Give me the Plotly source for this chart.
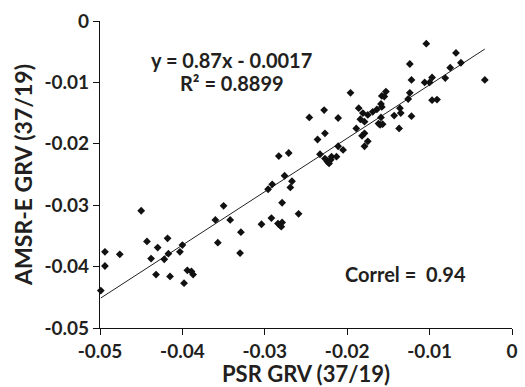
import plotly.graph_objects as go

psr_grv = [
    -0.0499, -0.0494, -0.0494, -0.0476, -0.0450, -0.0443, -0.0438, -0.0432, -0.0430, -0.0422,
    -0.0418, -0.0417, -0.0415, -0.0403, -0.0400, -0.0398, -0.0394, -0.0389, -0.0387, -0.0360,
    -0.0357, -0.0350, -0.0342, -0.0329, -0.0330, -0.0304, -0.0296, -0.0292, -0.0291, -0.0284,
    -0.0282, -0.0280, -0.0279, -0.0279, -0.0276, -0.0269, -0.0267, -0.0259, -0.0283, -0.0271,
    -0.0246, -0.0236, -0.0233, -0.0228, -0.0227, -0.0227, -0.0224, -0.0222, -0.0220, -0.0219,
    -0.0213, -0.0211, -0.0211, -0.0205, -0.0196, -0.0189, -0.0186, -0.0184, -0.0182, -0.0181,
    -0.0179, -0.0179, -0.0179, -0.0175, -0.0175, -0.0169, -0.0164, -0.0162, -0.0160, -0.0159,
    -0.0159, -0.0158, -0.0158, -0.0157, -0.0155, -0.0153, -0.0143, -0.0137, -0.0136, -0.0135,
    -0.0126, -0.0124, -0.0124, -0.0122, -0.0122, -0.0106, -0.0104, -0.0100, -0.0097, -0.0097,
    -0.0091, -0.0081, -0.0075, -0.0068, -0.0062, -0.0033,
]
amsre_grv = [
    -0.0439, -0.0376, -0.0399, -0.0380, -0.0309, -0.0359, -0.0387, -0.0413, -0.0369, -0.0388,
    -0.0354, -0.0379, -0.0416, -0.0376, -0.0365, -0.0427, -0.0406, -0.0408, -0.0413, -0.0324,
    -0.0361, -0.0301, -0.0324, -0.0344, -0.0378, -0.0331, -0.0274, -0.0321, -0.0266, -0.0330,
    -0.0332, -0.0335, -0.0328, -0.0296, -0.0252, -0.0271, -0.0261, -0.0314, -0.0220, -0.0215,
    -0.0157, -0.0193, -0.0217, -0.0145, -0.0183, -0.0224, -0.0229, -0.0232, -0.0226, -0.0221,
    -0.0221, -0.0204, -0.0158, -0.0210, -0.0117, -0.0175, -0.0142, -0.0160, -0.0187, -0.0150,
    -0.0183, -0.0204, -0.0164, -0.0153, -0.0196, -0.0148, -0.0144, -0.0167, -0.0169, -0.0157,
    -0.0135, -0.0140, -0.0122, -0.0168, -0.0123, -0.0115, -0.0154, -0.0175, -0.0142, -0.0150,
    -0.0127, -0.0117, -0.0070, -0.0155, -0.0096, -0.0100, -0.0037, -0.0100, -0.0092, -0.0129,
    -0.0128, -0.0093, -0.0076, -0.0052, -0.0068, -0.0096,
]

slope = 0.87
intercept = -0.0017
tick_vals = [-0.05, -0.04, -0.03, -0.02, -0.01, 0]
tick_text = ["-0.05", "-0.04", "-0.03", "-0.02", "-0.01", "0"]

x_fit = [min(psr_grv), max(psr_grv)]
y_fit = [slope * v + intercept for v in x_fit]

FONT = "Lato"
TXT = "#231f20"

fig = go.Figure()
fig.add_trace(go.Scatter(x=x_fit, y=y_fit, mode="lines",
                         line=dict(color="#222222", width=1), hoverinfo="skip"))
fig.add_trace(go.Scatter(x=psr_grv, y=amsre_grv, mode="markers",
                         marker=dict(symbol="diamond", size=6, color="#111111"),
                         cliponaxis=False))

axis_common = dict(
    range=[-0.05, 0], tickvals=tick_vals, ticktext=tick_text,
    showline=True, linecolor="#111111", linewidth=1.3,
    ticks="outside", ticklen=6, tickcolor="#111111", tickwidth=1,
    showgrid=False, zeroline=False,
    tickfont=dict(family=FONT, size=19, color=TXT, weight="bold"),
)

fig.update_layout(
    width=525, height=387,
    margin=dict(l=100, r=7, t=21, b=59),
    paper_bgcolor="white", plot_bgcolor="white",
    showlegend=False,
    xaxis=dict(**axis_common,
               title=dict(text="PSR GRV (37/19)", standoff=3,
                          font=dict(family=FONT, size=22, color=TXT, weight="bold"))),
    yaxis=dict(**axis_common,
               title=dict(text="AMSR-E GRV (37/19)", standoff=5,
                          font=dict(family=FONT, size=23, color=TXT, weight="bold"))),
    annotations=[
        dict(x=-0.0340, y=-0.0064, xref="x", yref="y", showarrow=False,
             text="y = 0.87x - 0.0017",
             font=dict(family=FONT, size=20, color=TXT, weight="bold")),
        dict(x=-0.0340, y=-0.0101, xref="x", yref="y", showarrow=False,
             text="R² = 0.8899",
             font=dict(family=FONT, size=20, color=TXT, weight="bold")),
        dict(x=-0.0129, y=-0.0412, xref="x", yref="y", showarrow=False,
             text="Correl =  0.94",
             font=dict(family=FONT, size=20, color=TXT, weight="bold")),
    ],
)

fig.write_html("out.html")
